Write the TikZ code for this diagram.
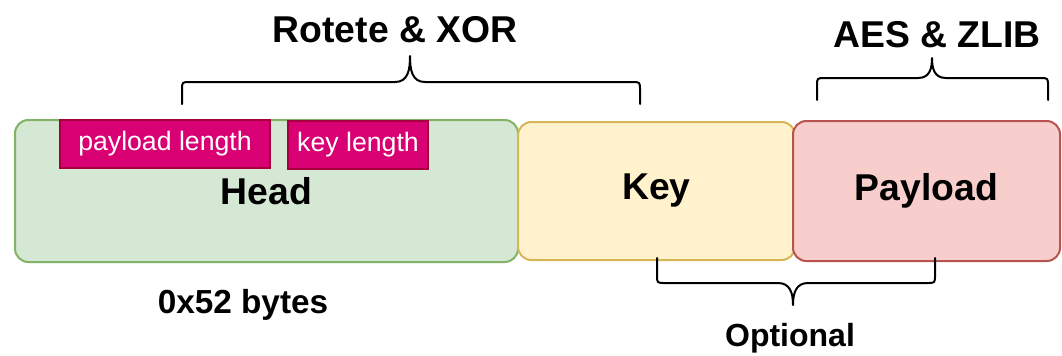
\documentclass[tikz,border=0pt]{standalone}
\usepackage{fontspec}
\setmainfont{Liberation Sans}
\definecolor{HeadFill}{HTML}{D5E8D4}
\definecolor{HeadLine}{HTML}{82B366}
\definecolor{KeyFill}{HTML}{FFF2CC}
\definecolor{KeyLine}{HTML}{D6B656}
\definecolor{DataFill}{HTML}{F8CECC}
\definecolor{DataLine}{HTML}{B85450}
\definecolor{FieldFill}{HTML}{D80073}
\definecolor{FieldLine}{HTML}{A50040}
\usetikzlibrary{positioning}

\begin{document}
\begin{tikzpicture}[x=0.75pt,y=-0.75pt,
  font=\fontsize{28}{32}\selectfont\bfseries,
  segment/.style={line width=1.5pt,rounded corners=10pt,inner sep=0pt,outer sep=0pt},
  field/.style={draw=FieldLine,fill=FieldFill,line width=1.2pt,text=white,
    font=\fontsize{20}{24}\selectfont\mdseries,inner sep=0pt,minimum height=36pt},
  note/.style={font=\fontsize{25}{30}\selectfont\bfseries},
  curly/.style={line width=1.5pt,line cap=round,line join=round}
]
\useasboundingbox (0,0) rectangle (1062,355);
% the three parts of the blob
\node[segment,draw=HeadLine,fill=HeadFill,minimum width=377.25pt,minimum height=106.5pt,
  anchor=north west] (head) at (15,120) {Head};
\node[segment,draw=KeyLine,fill=KeyFill,minimum width=207.75pt,minimum height=103.5pt,
  right=0pt of head] (key) {Key};
\node[segment,draw=DataLine,fill=DataFill,minimum width=200.25pt,minimum height=105pt,
  right=-1.5pt of key] (payload) {Payload};
% fields inside the head
\node[field,minimum width=157.5pt] (plen) at (165,144) {payload length};
\node[field,minimum width=105pt] (klen) at (358,145) {key length};
% braces and their labels
\draw[curly] (182,104) -- (182,90) .. controls (182,82) .. (190,82) -- (395,82)
  .. controls (408,82) and (410,70) .. (410,56) .. controls (410,70) and (412,82) .. (425,82)
  -- (632,82) .. controls (640,82) .. (640,90) -- (640,104);
\draw[curly] (817,100) -- (817,86) .. controls (817,78) .. (825,78) -- (918,78)
  .. controls (930,78) and (932,68) .. (932,58) .. controls (932,68) and (934,78) .. (946,78)
  -- (1040,78) .. controls (1048,78) .. (1048,86) -- (1048,100);
\draw[curly] (657,258) -- (657,275) .. controls (657,283) .. (665,283) -- (778,283)
  .. controls (790,283) and (793,293) .. (793,305) .. controls (793,293) and (796,283) .. (808,283)
  -- (927,283) .. controls (935,283) .. (935,275) -- (935,258);
\node (rotxor) at (395,30) {Rotete \& XOR};
\node (aeszlib) at (937,35) {AES \& ZLIB};
\node[note] (size) at (243,305) {0x52 bytes};
\node[note,font=\fontsize{24}{28}\selectfont\bfseries] (optional) at (790,338) {Optional};
\end{tikzpicture}
\end{document}
